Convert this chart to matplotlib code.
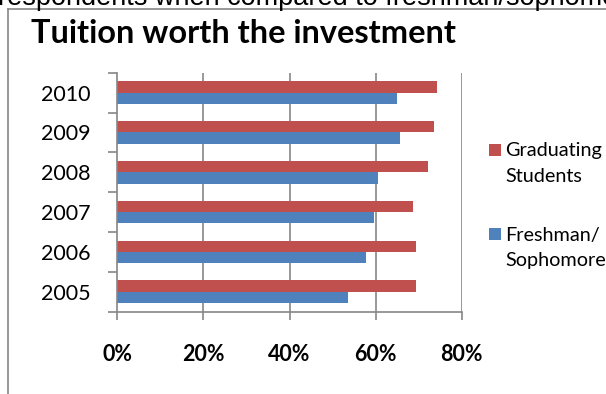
import matplotlib
matplotlib.use("Agg")
import matplotlib.pyplot as plt
from matplotlib.lines import Line2D
from matplotlib.patches import Rectangle
import numpy as np

years = ["2005", "2006", "2007", "2008", "2009", "2010"]
graduating = [69.5, 69.3, 68.8, 72.1, 73.5, 74.3]
freshman = [53.6, 57.8, 59.6, 60.6, 65.6, 64.9]
series_labels = ["Graduating\nStudents", "Freshman/\nSophomore"]
xticks = [0, 20, 40, 60, 80]
xtick_labels = ["0%", "20%", "40%", "60%", "80%"]

RED = "#C0504D"
BLUE = "#4F81BD"
GRID = "#868686"
FONT = "Lato"

W, H = 606, 394
fig = plt.figure(figsize=(W / 100, H / 100), dpi=100)


def px(x, y):
    return x / W, 1 - y / H


# sentence running above the chart frame
fig.text(*px(-2, 4.7), "respondents when compared to freshman/sophomore",
         family="Liberation Sans", fontsize=19.5, va="baseline", ha="left",
         color="black")

# chart frame (left and top edges)
fig.add_artist(Line2D([8 / W, 8 / W], [0, 1 - 9 / H], transform=fig.transFigure,
                      color=GRID, lw=1.2))
fig.add_artist(Line2D([8 / W, 1.0], [1 - 9 / H, 1 - 9 / H], transform=fig.transFigure,
                      color=GRID, lw=1.2))

left, right, top, bottom = 117.3, 461.7, 72.7, 311.7
ax = fig.add_axes([left / W, 1 - bottom / H, (right - left) / W, (bottom - top) / H])

y = np.arange(len(years))
h = 0.285
ax.barh(y + h / 2, graduating, height=h, color=RED)
ax.barh(y - h / 2, freshman, height=h, color=BLUE)

ax.set_xlim(0, 80)
ax.set_ylim(-0.5, len(years) - 0.5)

for s in ["top", "right"]:
    ax.spines[s].set_visible(False)
for s in ["left", "bottom"]:
    ax.spines[s].set_color(GRID)
    ax.spines[s].set_linewidth(1.2)

ax.set_xticks(xticks)
ax.set_xticklabels(xtick_labels, family=FONT, fontweight="bold", fontsize=15.5)
ax.tick_params(axis="x", direction="out", length=6, width=1.2, color=GRID, pad=17)
for xv in xticks[1:]:
    ax.axvline(xv, color=GRID, lw=1.2, zorder=0)

ax.set_yticks(y)
ax.set_yticklabels(years, family=FONT, fontsize=15.5)
ax.tick_params(axis="y", length=0, pad=19.5)
ax.set_yticks(np.arange(-0.5, len(years)), minor=True)
ax.tick_params(axis="y", which="minor", direction="out", length=6.5, width=1.2, color=GRID)

fig.text(*px(243.5, 43.3), "Tuition worth the investment", family=FONT,
         fontweight="bold", fontsize=23.4, ha="center", va="baseline")

# legend: colour swatch beside the first line of a two-line label
for (label, color, base, base2) in zip(series_labels, [RED, BLUE], [156, 240], [181.7, 266]):
    x0, y0 = px(489, base)
    fig.add_artist(Rectangle((x0, y0), 12 / W, 12 / H, transform=fig.transFigure,
                             facecolor=color, edgecolor="none"))
    fig.text(*px(505, base2), label, family=FONT, fontsize=14.3,
             ha="left", va="baseline", linespacing=1.6)

fig.savefig("out.png", dpi=100)
